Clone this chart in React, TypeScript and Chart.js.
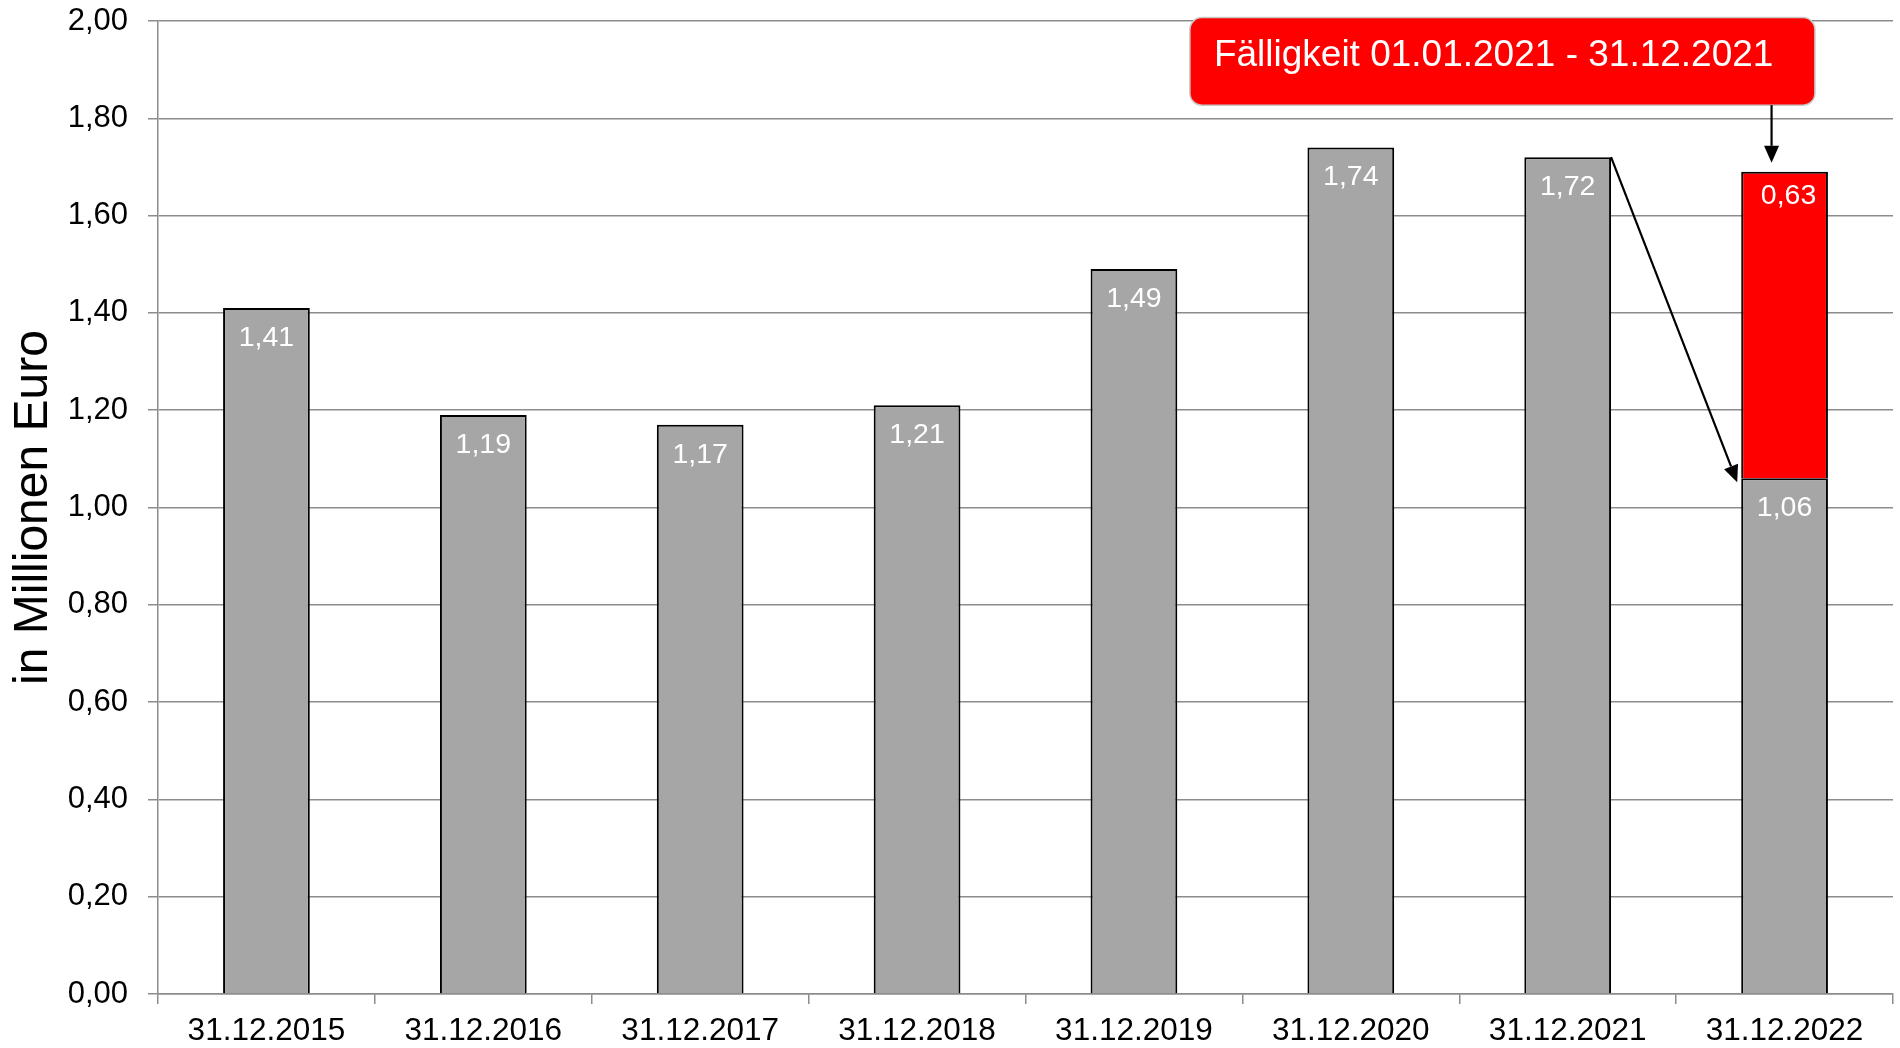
import React, { useEffect, useRef } from 'react';
import { Chart, registerables } from 'chart.js';

Chart.register(...registerables);

// ---- Data ----
const categories = [
  '31.12.2015',
  '31.12.2016',
  '31.12.2017',
  '31.12.2018',
  '31.12.2019',
  '31.12.2020',
  '31.12.2021',
  '31.12.2022',
];
const baseValues = [1.41, 1.19, 1.17, 1.21, 1.49, 1.74, 1.72, 1.06];
const dueValues = [null, null, null, null, null, null, null, 0.63];
const yMin = 0;
const yMax = 2;
const yStep = 0.2;
const yTitle = 'in Millionen Euro';
const calloutText = 'Fälligkeit 01.01.2021 - 31.12.2021';

const FONT = "'Liberation Sans', Arial, Helvetica, sans-serif";
const GRAY = '#A6A6A6';
const RED = '#FF0000';
const GRID = '#8C8C8C';

const fmt = (v: number) => v.toFixed(2).replace('.', ',');

function drawArrow(ctx: CanvasRenderingContext2D, x1: number, y1: number, x2: number, y2: number) {
  const ang = Math.atan2(y2 - y1, x2 - x1);
  const headLen = 17;
  const headHalf = 7.5;
  const bx = x2 - headLen * Math.cos(ang);
  const by = y2 - headLen * Math.sin(ang);
  ctx.save();
  ctx.strokeStyle = '#000';
  ctx.fillStyle = '#000';
  ctx.lineWidth = 2.2;
  ctx.beginPath();
  ctx.moveTo(x1, y1);
  ctx.lineTo(bx, by);
  ctx.stroke();
  ctx.beginPath();
  ctx.moveTo(x2, y2);
  ctx.lineTo(bx + headHalf * Math.sin(ang), by - headHalf * Math.cos(ang));
  ctx.lineTo(bx - headHalf * Math.sin(ang), by + headHalf * Math.cos(ang));
  ctx.closePath();
  ctx.fill();
  ctx.restore();
}

const valueLabelPlugin = {
  id: 'valueLabels',
  afterDatasetsDraw(chart: any) {
    const ctx = chart.ctx;
    ctx.save();
    ctx.font = `28.5px ${FONT}`;
    ctx.fillStyle = '#FFFFFF';
    ctx.textAlign = 'center';
    ctx.textBaseline = 'middle';
    chart.data.datasets.forEach((ds: any, di: number) => {
      const meta = chart.getDatasetMeta(di);
      meta.data.forEach((el: any, i: number) => {
        const v = ds.data[i];
        if (v === null || v === undefined) return;
        const off = di === 0 ? 30 : 24;
        const dx = di === 0 ? 0 : 4;
        ctx.fillText(fmt(v), el.x + dx, el.y + off);
      });
    });
    ctx.restore();
  },
};

const calloutPlugin = {
  id: 'callout',
  afterDraw(chart: any) {
    const ctx = chart.ctx;
    const x = chart.scales.x;
    const y = chart.scales.y;
    const last = categories.length - 1;
    const prevEl = chart.getDatasetMeta(0).data[last - 1];
    const baseEl = chart.getDatasetMeta(0).data[last];
    const dueEl = chart.getDatasetMeta(1).data[last];

    // callout box
    const left = x.getPixelForValue(4.258);
    const right = x.getPixelForValue(7.14);
    const top = y.getPixelForValue(2.007);
    const bottom = y.getPixelForValue(1.827);
    ctx.save();
    ctx.beginPath();
    (ctx as any).roundRect(left, top, right - left, bottom - top, 12);
    ctx.fillStyle = RED;
    ctx.fill();
    ctx.lineWidth = 1.5;
    ctx.strokeStyle = '#C8C8C8';
    ctx.stroke();
    ctx.fillStyle = '#FFFFFF';
    ctx.font = `37px ${FONT}`;
    ctx.textAlign = 'left';
    ctx.textBaseline = 'middle';
    ctx.fillText(calloutText, left + 24, top + 38);
    ctx.restore();

    // arrow from callout to the due segment
    const ax = dueEl.x - 13;
    drawArrow(ctx, ax, bottom, ax, dueEl.y - 9);

    // arrow from previous year's bar to the remaining part
    const bw = baseEl.width / 2;
    drawArrow(ctx, prevEl.x + prevEl.width / 2, prevEl.y, baseEl.x - bw - 4, baseEl.y + 4);
  },
};

export default function App() {
  const canvasRef = useRef<HTMLCanvasElement | null>(null);

  useEffect(() => {
    document.body.style.margin = '0';
    const canvas = canvasRef.current;
    if (!canvas) return;
    const chart = new Chart(canvas, {
      type: 'bar',
      data: {
        labels: categories,
        datasets: [
          {
            label: 'Bestand',
            data: baseValues,
            backgroundColor: GRAY,
            borderColor: '#000000',
            borderWidth: 2,
            categoryPercentage: 1,
            barPercentage: 0.4,
          },
          {
            label: 'Fälligkeit',
            data: dueValues as any,
            backgroundColor: RED,
            borderColor: '#000000',
            borderWidth: 2,
            categoryPercentage: 1,
            barPercentage: 0.4,
          },
        ],
      },
      options: {
        animation: false,
        responsive: false,
        devicePixelRatio: 1,
        layout: { padding: { top: 0, right: 7, left: 0, bottom: 0 } },
        plugins: {
          legend: { display: false },
          tooltip: { enabled: false },
        },
        scales: {
          x: {
            stacked: true,
            afterFit(scale: any) {
              scale.height = 54;
            },
            grid: {
              display: true,
              drawOnChartArea: false,
              drawTicks: true,
              tickLength: 10,
              color: GRID,
              lineWidth: 1.5,
              offset: true,
            },
            border: { display: true, color: GRID, width: 1.5 },
            ticks: {
              color: '#000000',
              font: { family: FONT, size: 31.5 },
              padding: 8,
              maxRotation: 0,
              autoSkip: false,
            },
          },
          y: {
            stacked: true,
            min: yMin,
            max: yMax,
            afterFit(scale: any) {
              scale.width = 158;
              scale.paddingTop = 21;
              scale.paddingBottom = 18;
            },
            ticks: {
              stepSize: yStep,
              color: '#000000',
              font: { family: FONT, size: 31 },
              padding: 20,
              callback: (v: any) => fmt(Number(v)),
            },
            grid: {
              color: GRID,
              lineWidth: 1.5,
              tickLength: 10,
            },
            border: { display: true, color: GRID, width: 1.5 },
            title: {
              display: true,
              text: yTitle,
              color: '#000000',
              font: { family: FONT, size: 48 },
              padding: { top: 5, bottom: 0 },
            },
          },
        },
      },
      plugins: [valueLabelPlugin, calloutPlugin],
    });
    return () => chart.destroy();
  }, []);

  return (
    <div style={{ width: 1900, height: 1048, overflow: 'hidden', background: '#fff' }}>
      <canvas ref={canvasRef} width={1900} height={1048} style={{ display: 'block' }} />
    </div>
  );
}
